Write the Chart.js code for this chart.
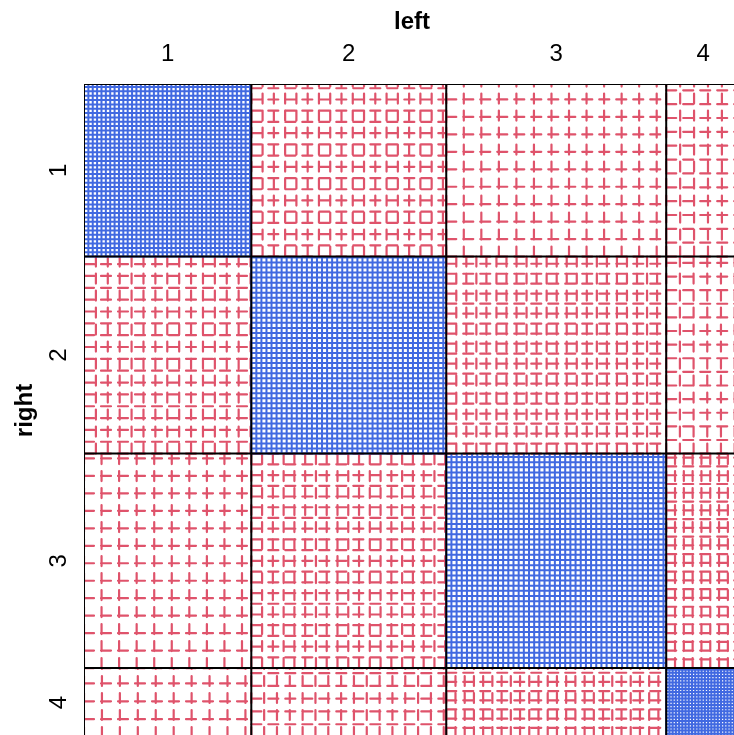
<!DOCTYPE html>
<html>
<head>
<meta charset="utf-8">
<title>Sieve diagram: right vs left eye grade</title>
<script src="https://cdn.jsdelivr.net/npm/chart.js@4/dist/chart.umd.min.js"></script>
<style>
  html, body { margin: 0; padding: 0; background: #ffffff; overflow: hidden; width: 734px; height: 735px; }
  #chart { position: absolute; left: 0; top: 0; }
</style>
</head>
<body>
<canvas id="chart" width="740" height="737"></canvas>
<script>
// Grades of unaided distant vision (left eye across, right eye down)
const leftGrades = ['1', '2', '3', '4'];
const rightGrades = ['1', '2', '3', '4'];

// Observed counts, one array per right-eye grade (columns = left-eye grade)
const right1 = [1520, 266, 124, 66];
const right2 = [234, 1512, 432, 78];
const right3 = [117, 362, 1772, 205];
const right4 = [36, 82, 179, 492];
const counts = [right1, right2, right3, right4];

const POS_COLOR = '#4169E1';
const NEG_COLOR = '#DF536B';
const FONT = "'Liberation Sans Narrow', 'Liberation Sans', Arial, sans-serif";

// Margins and total
const rowTotals = counts.map(r => r.reduce((a, b) => a + b, 0));
const colTotals = leftGrades.map((_, j) => counts.reduce((a, r) => a + r[j], 0));
const total = rowTotals.reduce((a, b) => a + b, 0);

// Cell extents in data units: x runs left->right over columns, y runs bottom->top
const colStart = [];
colTotals.reduce((acc, v, j) => { colStart[j] = acc; return acc + v; }, 0);
const rowBottom = [];
rowTotals.reduce((acc, v, i) => { rowBottom[i] = total - acc - v; return acc + v; }, 0);

const colCenters = colTotals.map((v, j) => colStart[j] + v / 2);
const rowCenters = rowTotals.map((v, i) => rowBottom[i] + v / 2);

// Sieve lines: each cell (area ~ expected) is ruled into as many squares as it has observations
const posLines = [];
const negLines = [];
const borders = [];
counts.forEach((row, i) => {
  row.forEach((obs, j) => {
    const x0 = colStart[j], w = colTotals[j];
    const y0 = rowBottom[i], h = rowTotals[i];
    const expected = rowTotals[i] * colTotals[j] / total;
    const target = obs >= expected ? posLines : negLines;
    if (obs > 0) {
      const side = Math.sqrt(w * h / obs);
      for (let x = x0; x <= x0 + w + 1e-6; x += side) {
        target.push({ x: x, y: y0 }, { x: x, y: y0 + h }, { x: x, y: null });
      }
      for (let y = y0; y <= y0 + h + 1e-6; y += side) {
        target.push({ x: x0, y: y }, { x: x0 + w, y: y }, { x: x0, y: null });
      }
    }
    borders.push(
      { x: x0, y: y0 }, { x: x0 + w, y: y0 }, { x: x0 + w, y: y0 + h },
      { x: x0, y: y0 + h }, { x: x0, y: y0 }, { x: x0, y: null }
    );
  });
});

const lineDefaults = {
  fill: false, pointRadius: 0, pointHoverRadius: 0, tension: 0, spanGaps: false
};

// Drop the label overhang padding so the cells fill the whole plotting area
function tightFit(s, key, size) {
  s[key] = size;
  s.paddingTop = 0; s.paddingBottom = 0; s.paddingLeft = 0; s.paddingRight = 0;
}

new Chart(document.getElementById('chart'), {
  type: 'line',
  data: {
    datasets: [
      Object.assign({ label: 'cells', data: borders, borderColor: '#000000', borderWidth: 2,
        borderJoinStyle: 'miter', order: 0 }, lineDefaults),
      Object.assign({ label: 'above expected', data: posLines, borderColor: POS_COLOR, borderWidth: 2,
        borderCapStyle: 'butt', order: 1 }, lineDefaults),
      Object.assign({ label: 'below expected', data: negLines, borderColor: NEG_COLOR, borderWidth: 2.2,
        borderDash: [10, 7], borderCapStyle: 'round', order: 2 }, lineDefaults)
    ]
  },
  options: {
    responsive: false,
    animation: false,
    devicePixelRatio: 1,
    events: [],
    layout: { padding: 0 },
    plugins: { legend: { display: false }, tooltip: { enabled: false } },
    scales: {
      x: {
        type: 'linear', position: 'top', min: 0, max: total,
        grid: { display: false, drawTicks: false },
        border: { display: false },
        afterBuildTicks: s => { s.ticks = colCenters.map(v => ({ value: v })); },
        afterFit: s => tightFit(s, 'height', 84),
        ticks: {
          autoSkip: false, maxRotation: 0, padding: 15, color: '#000000',
          font: { family: FONT, size: 24 },
          callback: (v, idx) => leftGrades[idx]
        },
        title: {
          display: true, text: 'left', color: '#000000',
          font: { family: FONT, size: 24, weight: 'bold' },
          padding: { top: 8, bottom: 0 }
        }
      },
      y: {
        type: 'linear', position: 'left', min: 0, max: total,
        grid: { display: false, drawTicks: false },
        border: { display: false },
        afterBuildTicks: s => { s.ticks = rowCenters.map(v => ({ value: v })); },
        afterFit: s => tightFit(s, 'width', 84),
        ticks: {
          autoSkip: false, minRotation: 90, maxRotation: 90, crossAlign: 'center',
          padding: 18, color: '#000000',
          font: { family: FONT, size: 24 },
          callback: (v, idx) => rightGrades[idx]
        },
        title: {
          display: true, text: 'right', color: '#000000',
          font: { family: FONT, size: 24, weight: 'bold' },
          padding: { top: 11, bottom: 0 }
        }
      }
    }
  }
});
</script>
</body>
</html>
